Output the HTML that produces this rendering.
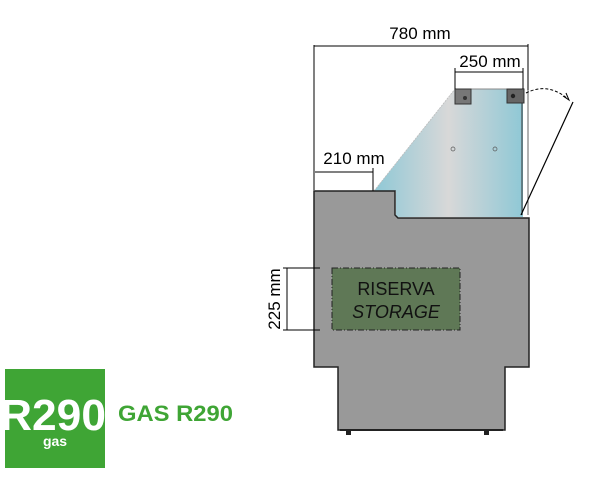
<!DOCTYPE html>
<html><head><style>body{margin:0;background:#fff}svg{display:block}</style></head><body>
<svg width="600" height="482" viewBox="0 0 600 482" xmlns="http://www.w3.org/2000/svg" font-family="Liberation Sans, sans-serif">
<defs>
<linearGradient id="g" x1="0" x2="1" y1="0" y2="0">
<stop offset="0" stop-color="#8fc8d6"/><stop offset="0.5" stop-color="#d8d8d8"/><stop offset="1" stop-color="#8fc8d6"/>
</linearGradient>
</defs>
<polygon points="374,191 455,89 523,89 523,217 396,217 396,191" fill="url(#g)"/>
<line x1="374" y1="191" x2="455" y2="89" stroke="#bbb" stroke-width="0.8" stroke-dasharray="2,1"/>
<line x1="455" y1="89" x2="523" y2="89" stroke="#888" stroke-width="1"/>
<line x1="522" y1="89" x2="522" y2="215" stroke="#333" stroke-width="1"/>
<line x1="528" y1="90" x2="528" y2="215" stroke="#666" stroke-width="1"/>
<circle cx="453" cy="149" r="2" fill="none" stroke="#555" stroke-width="0.7"/>
<circle cx="495" cy="149" r="2" fill="none" stroke="#555" stroke-width="0.7"/>
<rect x="455" y="89" width="16" height="15" fill="#777" stroke="#333" stroke-width="1"/>
<circle cx="465" cy="98" r="2" fill="#333"/>
<rect x="507" y="89" width="17" height="14" fill="#666" stroke="#333" stroke-width="1"/>
<circle cx="513" cy="96" r="2.2" fill="#222"/>
<path d="M526,93 Q548,82 568,99" fill="none" stroke="#000" stroke-width="1" stroke-dasharray="3,2"/>
<path d="M563,96 L569,100 L566,93" fill="none" stroke="#000" stroke-width="1"/>
<line x1="521" y1="215" x2="573" y2="102" stroke="#000" stroke-width="1.2"/>
<path d="M314,191 L395,191 L395,215 L398,218 L529,218 L529,367 L505,367 L505,430 L338,430 L338,367 L314,367 Z" fill="#999" stroke="#222" stroke-width="1.5"/>
<rect x="346" y="430" width="5" height="5" fill="#222"/>
<rect x="484" y="430" width="5" height="5" fill="#222"/>
<line x1="340" y1="430" x2="503" y2="430" stroke="#222" stroke-width="2"/>
<rect x="332" y="268" width="128" height="62" fill="#5f7856" stroke="#222" stroke-width="1" stroke-dasharray="6,2,1,2"/>
<text x="396" y="295" font-size="18" text-anchor="middle" fill="#111">RISERVA</text>
<text x="396" y="318" font-size="18" font-style="italic" text-anchor="middle" fill="#111">STORAGE</text>
<g stroke="#000" stroke-width="1">
<line x1="314" y1="45" x2="314" y2="190"/><line x1="528" y1="44" x2="528" y2="90"/><line x1="314" y1="46" x2="528" y2="46"/>
<line x1="455" y1="72" x2="523" y2="72"/><line x1="455" y1="68" x2="455" y2="89"/><line x1="523" y1="68" x2="523" y2="89"/>
<line x1="315" y1="172" x2="373" y2="172"/><line x1="373" y1="168" x2="373" y2="191"/>
<line x1="287" y1="268" x2="287" y2="330"/><line x1="283" y1="268" x2="320" y2="268"/><line x1="283" y1="330" x2="320" y2="330"/>
</g>
<text x="420" y="39" font-size="17" text-anchor="middle">780 mm</text>
<text x="490" y="67" font-size="17" text-anchor="middle">250 mm</text>
<text x="354" y="164" font-size="17" text-anchor="middle">210 mm</text>
<text transform="translate(280,299) rotate(-90)" font-size="17" text-anchor="middle">225 mm</text>
<rect x="5" y="369" width="100" height="99" fill="#3fa535"/>
<text x="0" y="430" font-size="44" font-weight="bold" fill="#fff" textLength="106" lengthAdjust="spacingAndGlyphs">R290</text>
<text x="55" y="446" font-size="14" font-weight="bold" fill="#fff" text-anchor="middle">gas</text>
<text x="118" y="421" font-size="22" font-weight="bold" fill="#3fa535" textLength="115" lengthAdjust="spacingAndGlyphs">GAS R290</text>
</svg>
</body></html>
